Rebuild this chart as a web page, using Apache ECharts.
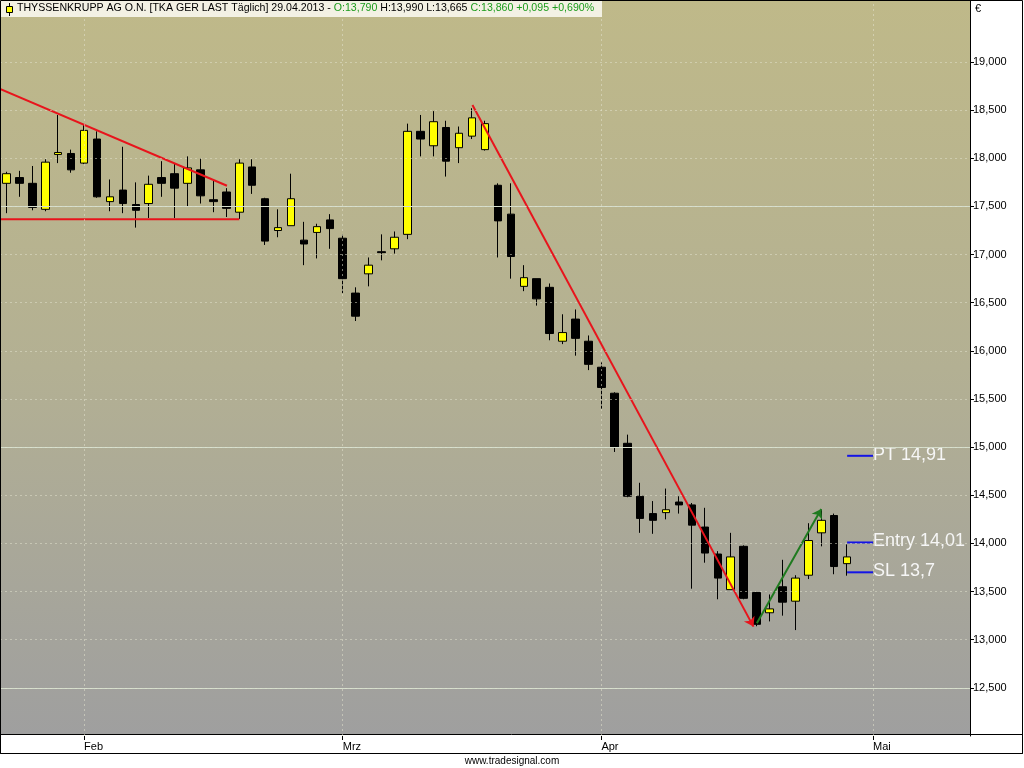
<!DOCTYPE html>
<html lang="de">
<head>
    <meta charset="UTF-8">
    <title>THYSSENKRUPP AG O.N.</title>
    <script type="text/javascript" src="https://cdn.jsdelivr.net/npm/echarts@6/dist/echarts.min.js"></script>
    <style>
        html, body {
            margin: 0;
            padding: 0;
            background: #fff;
        }
        #main {
            width: 1024px;
            height: 768px;
        }
    </style>
</head>
<body>
<div id="main"></div>
<script>

    // Handelstage (Kategorien), die letzten 9 sind noch leer
    let dates = [
        '24.01', '25.01', '28.01', '29.01', '30.01', '31.01',
        '01.02', '04.02', '05.02', '06.02', '07.02', '08.02', '11.02', '12.02', '13.02', '14.02',
        '15.02', '18.02', '19.02', '20.02', '21.02', '22.02', '25.02', '26.02', '27.02', '28.02',
        '01.03', '04.03', '05.03', '06.03', '07.03', '08.03', '11.03', '12.03', '13.03', '14.03',
        '15.03', '18.03', '19.03', '20.03', '21.03', '22.03', '25.03', '26.03', '27.03', '28.03',
        '02.04', '03.04', '04.04', '05.04', '08.04', '09.04', '10.04', '11.04', '12.04', '15.04',
        '16.04', '17.04', '18.04', '19.04', '22.04', '23.04', '24.04', '25.04', '26.04', '29.04'
    ];
    let futureDates = ['30.04', '02.05', '03.05', '06.05', '07.05', '08.05', '09.05', '10.05', '13.05'];

    let opens = [
        17.74, 17.80, 17.74, 17.47, 18.04, 18.05, 17.95, 18.20, 17.55, 17.67,
        17.52, 17.53, 17.80, 17.84, 17.74, 17.88, 17.57, 17.65, 17.44, 17.91,
        17.58, 17.25, 17.30, 17.15, 17.23, 17.36, 17.17, 16.60, 16.80, 17.03,
        17.06, 17.21, 18.28, 18.13, 18.32, 18.11, 18.23, 18.09, 17.72, 17.42,
        16.67, 16.75, 16.66, 16.10, 16.33, 16.10, 15.83, 15.56, 15.04, 14.49,
        14.31, 14.32, 14.43, 14.40, 14.17, 13.89, 13.52, 13.97, 13.49, 13.28,
        13.55, 13.40, 13.67, 14.11, 14.29, 13.79
    ];
    let closes = [
        17.84, 17.74, 17.49, 17.96, 18.06, 17.88, 18.29, 17.60, 17.60, 17.53,
        17.46, 17.73, 17.74, 17.69, 17.90, 17.61, 17.55, 17.48, 17.95, 17.72,
        17.14, 17.28, 17.58, 17.11, 17.29, 17.27, 16.75, 16.36, 16.89, 17.02,
        17.18, 18.28, 18.20, 18.38, 17.97, 18.26, 18.42, 18.36, 17.35, 16.98,
        16.76, 16.54, 16.18, 16.19, 16.13, 15.86, 15.62, 15.00, 14.49, 14.26,
        14.24, 14.35, 14.40, 14.19, 13.90, 13.64, 13.86, 13.43, 13.16, 13.32,
        13.39, 13.64, 14.03, 14.24, 13.76, 13.86
    ];
    let highs = [
        17.86, 17.87, 17.92, 17.99, 18.45, 18.09, 18.35, 18.28, 17.78, 18.12,
        17.75, 17.82, 17.97, 17.95, 18.02, 18.00, 17.78, 17.69, 17.99, 17.99,
        17.59, 17.47, 17.84, 17.34, 17.32, 17.42, 17.21, 16.66, 16.97, 17.21,
        17.24, 18.36, 18.45, 18.49, 18.39, 18.33, 18.52, 18.39, 17.74, 17.74,
        16.89, 16.75, 16.70, 16.38, 16.43, 16.16, 15.88, 15.57, 15.13, 14.63,
        14.44, 14.57, 14.49, 14.42, 14.37, 13.92, 14.11, 13.98, 13.50, 13.47,
        13.83, 13.67, 14.21, 14.35, 14.31, 13.99
    ];
    let lows = [
        17.43, 17.60, 17.46, 17.45, 17.95, 17.85, 17.94, 17.59, 17.45, 17.43,
        17.28, 17.38, 17.60, 17.38, 17.50, 17.53, 17.44, 17.39, 17.37, 17.63,
        17.10, 17.18, 17.30, 16.89, 16.96, 17.06, 16.60, 16.31, 16.67, 16.94,
        17.01, 17.16, 18.02, 18.02, 17.81, 17.95, 18.20, 18.08, 16.97, 16.75,
        16.62, 16.47, 16.11, 16.07, 15.95, 15.80, 15.40, 14.95, 14.48, 14.11,
        14.10, 14.25, 14.31, 13.53, 13.80, 13.42, 13.52, 13.42, 13.14, 13.19,
        13.25, 13.10, 13.63, 13.97, 13.68, 13.665
    ];

    // Beschriftete Kurswerte der rechten Achse
    let tickValues = [12.5, 13.0, 13.5, 14.0, 14.5, 15.0, 15.5, 16.0, 16.5, 17.0, 17.5, 18.0, 18.5, 19.0];

    // Monatsbeschriftung (Index des ersten Handelstags)
    let monthIndex = [6, 26, 46, 67];
    let monthNames = ['Feb', 'Mrz', 'Apr', 'Mai'];

    // Kurslinien, die durchgezogen sind
    let majorLevels = [17.5, 15.0, 12.5];

    // Trendlinien [Index, Kurs]
    let triTop = [[-0.5, 18.72], [17.05, 17.715]];
    let triBase = [[-0.5, 17.367], [18.0, 17.367]];
    let downTrend = [[36.03, 18.553], [57.76, 13.136]];
    let upTrend = [[58.02, 13.171], [63.0, 14.358]];

    // Ziel / Einstieg / Stop
    let levelNames = ['PT', 'Entry', 'SL'];
    let levelValues = [14.91, 14.01, 13.7];
    let levelFrom = 65;
    let levelTo = 67;

    let headerChange = '+0,095 +0,690%';

    let fmt3 = v => v.toFixed(3).replace('.', ',');
    let last = opens.length - 1;

    let chart = echarts.init(document.getElementById('main'));

    let series = [];

    // Kerzen
    series.push({
        type: 'candlestick',
        xAxisIndex: 0,
        yAxisIndex: 0,
        barWidth: 8,
        data: opens.map((o, i) => [o, closes[i], lows[i], highs[i]]),
        itemStyle: {
            color: '#ffff00',
            color0: '#000000',
            borderColor: '#000000',
            borderColor0: '#000000',
            borderWidth: 1
        },
        z: 3
    });

    // Gitterlinien
    series.push({
        type: 'line',
        xAxisIndex: 1,
        data: [],
        markLine: {
            silent: true,
            symbol: 'none',
            label: {show: false},
            lineStyle: {color: '#d3dccb', type: 'solid', width: 1},
            data: majorLevels.map(v => ({yAxis: v}))
        },
        z: 1
    });
    series.push({
        type: 'line',
        xAxisIndex: 1,
        data: [],
        markLine: {
            silent: true,
            symbol: 'none',
            label: {show: false},
            lineStyle: {color: 'rgba(225,225,205,0.55)', type: [2, 3], width: 1},
            data: monthIndex.map(i => ({xAxis: i}))
        },
        z: 1
    });

    // rote / grüne Trendlinien
    [triTop, triBase].forEach(function (pts) {
        series.push({
            type: 'line',
            xAxisIndex: 1,
            data: pts,
            symbol: 'none',
            lineStyle: {color: '#e8141c', width: 2},
            z: 4
        });
    });
    [[downTrend, '#e8141c'], [upTrend, '#1f7a1f']].forEach(function (item) {
        series.push({
            type: 'line',
            xAxisIndex: 1,
            data: [],
            markLine: {
                silent: true,
                symbol: ['none', 'arrow'],
                symbolSize: 9,
                label: {show: false},
                lineStyle: {color: item[1], width: 2, type: 'solid'},
                data: [[{coord: item[0][0]}, {coord: item[0][1]}]]
            },
            z: 4
        });
    });

    // blaue Marken mit Beschriftung
    levelValues.forEach(function (v, k) {
        series.push({
            type: 'line',
            xAxisIndex: 1,
            data: [[levelFrom, v], [levelTo, v]],
            symbol: 'none',
            lineStyle: {color: '#1414e6', width: 2},
            endLabel: {
                show: true,
                formatter: levelNames[k] + ' ' + String(v).replace('.', ','),
                color: '#f6f6f6',
                fontSize: 18,
                fontFamily: 'Liberation Sans',
                distance: 0,
                offset: [0, -1]
            },
            z: 4
        });
    });

    let option = {
        animation: false,
        backgroundColor: '#ffffff',
        grid: {
            left: 0,
            top: 0,
            width: 970,
            height: 736,
            show: true,
            borderWidth: 0,
            backgroundColor: {
                type: 'linear', x: 0, y: 0, x2: 0, y2: 1,
                colorStops: [
                    {offset: 0, color: '#bfb989'},
                    {offset: 0.5, color: '#b3b093'},
                    {offset: 1, color: '#9f9f9f'}
                ]
            }
        },
        xAxis: [
            {
                type: 'category',
                data: dates.concat(futureDates),
                boundaryGap: true,
                z: 5,
                axisLine: {show: false},
                axisTick: {
                    show: true,
                    alignWithLabel: true,
                    length: 4,
                    interval: i => monthIndex.indexOf(i) >= 0,
                    lineStyle: {color: '#000'}
                },
                axisLabel: {
                    interval: i => monthIndex.indexOf(i) >= 0,
                    formatter: (v, i) => monthNames[monthIndex.indexOf(i)],
                    align: 'left',
                    margin: 5,
                    color: '#000',
                    fontSize: 11,
                    fontFamily: 'Liberation Sans'
                },
                splitLine: {show: false}
            },
            {
                type: 'value',
                min: -0.5,
                max: 74.5,
                show: false
            }
        ],
        yAxis: {
            type: 'value',
            position: 'right',
            min: 12,
            max: 19.644,
            interval: 0.5,
            z: 6,
            axisLine: {show: true, onZero: false, lineStyle: {color: '#000', width: 1}},
            axisTick: {show: true, length: 4, customValues: tickValues, lineStyle: {color: '#000'}},
            axisLabel: {
                color: '#000',
                fontSize: 11,
                fontFamily: 'Liberation Sans',
                margin: 3,
                customValues: tickValues,
                formatter: v => fmt3(v)
            },
            splitLine: {
                show: true,
                lineStyle: {color: 'rgba(228,228,208,0.5)', type: [2, 3], width: 1}
            }
        },
        graphic: [
            // Kopfzeile
            {type: 'rect', shape: {x: 0, y: 0, width: 602, height: 17}, style: {fill: '#f3f1e4'}, z: 20},
            {type: 'line', shape: {x1: 9.5, y1: 3, x2: 9.5, y2: 16}, style: {stroke: '#000', lineWidth: 1}, z: 21},
            {type: 'rect', shape: {x: 6.5, y: 6.5, width: 6, height: 6}, style: {fill: '#ffff00', stroke: '#000', lineWidth: 1}, z: 22},
            {
                type: 'text', left: 17, top: 3, z: 22,
                style: {
                    text: '{k|THYSSENKRUPP AG O.N. [TKA GER LAST Täglich] 29.04.2013 - }{g|O:' + fmt3(opens[last]) + '}'
                        + '{k| H:' + fmt3(highs[last]) + ' L:' + fmt3(lows[last]) + ' }'
                        + '{g|C:' + fmt3(closes[last]) + ' ' + headerChange + '}',
                    font: '10.6px Liberation Sans',
                    rich: {
                        k: {fill: '#000', fontSize: 10.6, fontFamily: 'Liberation Sans'},
                        g: {fill: '#1c9c1c', fontSize: 10.6, fontFamily: 'Liberation Sans'}
                    }
                }
            },
            // Währung
            {type: 'text', left: 975, top: 3, z: 20, style: {text: '€', fill: '#000', font: '11px Liberation Sans'}},
            // Zeitachse
            {type: 'rect', shape: {x: 0.5, y: 734.5, width: 1022, height: 19}, style: {fill: '#fff', stroke: '#000', lineWidth: 1}, z: 1},
            // Rahmen
            {type: 'rect', shape: {x: 0.5, y: 0.5, width: 1022, height: 753}, style: {fill: 'none', stroke: '#000', lineWidth: 1}, z: 20},
            // Fußzeile
            {type: 'text', left: 'center', top: 756, z: 20, style: {text: 'www.tradesignal.com', fill: '#000', font: '10px Liberation Sans'}}
        ],
        series: series
    };
    chart.setOption(option);

</script>
</body>
</html>
